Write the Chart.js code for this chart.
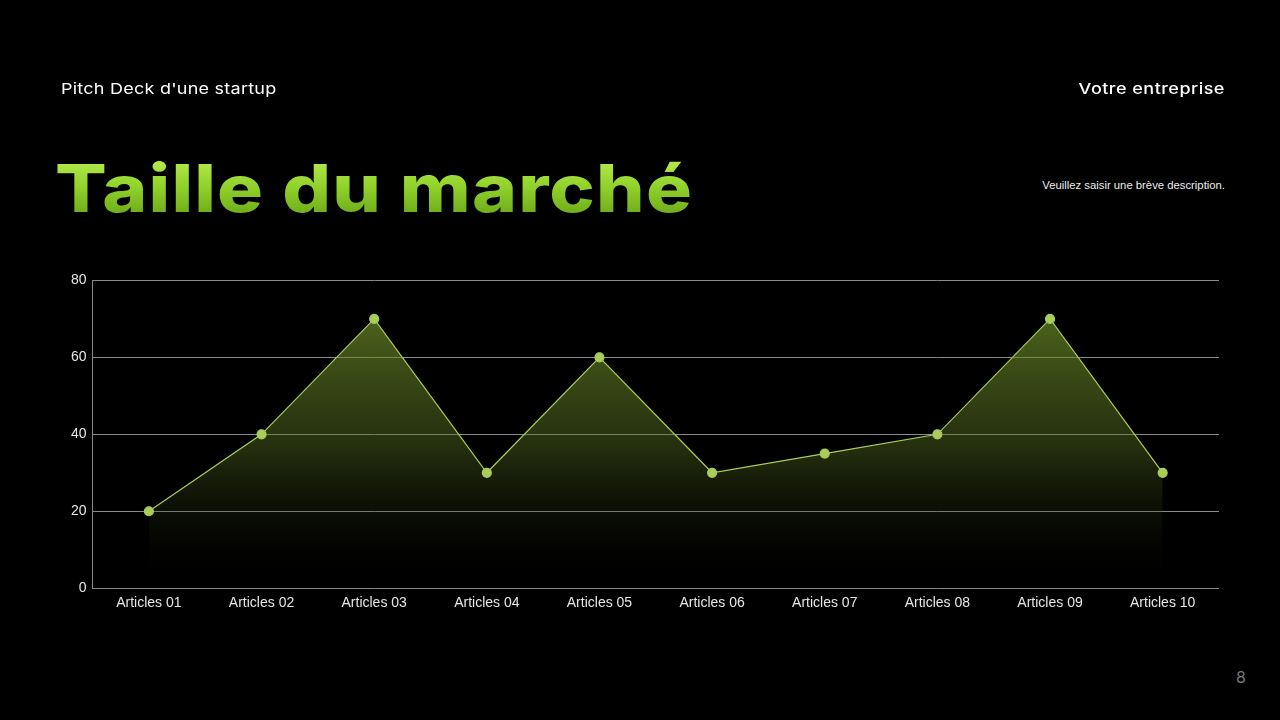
<!DOCTYPE html>
<html>
<head>
<meta charset="utf-8">
<script src="https://cdn.jsdelivr.net/npm/chart.js@4/dist/chart.umd.min.js"></script>
<style>
  html, body { margin: 0; padding: 0; background: #000; }
  body { width: 1280px; height: 720px; position: relative; overflow: hidden; font-family: Inter, "Noto Sans", sans-serif; color: #fff; }
  .top-left { position: absolute; left: 61px; top: 79px; font-size: 15px; letter-spacing: 0.2px; transform: scaleX(1.2); transform-origin: left; }
  .top-right { position: absolute; right: 55px; top: 79px; font-size: 15px; font-weight: 500; letter-spacing: 0.4px; transform: scaleX(1.2); transform-origin: right; }
  h1 { position: absolute; left: 55px; top: 148px; margin: 0; font-size: 66px; font-weight: 800; letter-spacing: 1px;
       background: linear-gradient(180deg, #c4f55a 0%, #8fd02a 50%, #5e9a12 100%);
       -webkit-background-clip: text; background-clip: text; color: transparent; transform: scaleX(1.16); transform-origin: left; }
  .desc { position: absolute; right: 55px; top: 179px; font-size: 11.3px; color: #eee; font-family: "Liberation Sans", sans-serif; }
  .page { position: absolute; left: 1236px; top: 667px; font-size: 16px; color: #777; }
  #wrap { position: absolute; left: 65px; top: 266px; width: 1160px; height: 353px; }
</style>
</head>
<body>
<div class="top-left">Pitch Deck d'une startup</div>
<div class="top-right">Votre entreprise</div>
<h1>Taille du marché</h1>
<div class="desc">Veuillez saisir une brève description.</div>
<div class="page">8</div>
<div id="wrap"><canvas id="chart"></canvas></div>
<script>
const categories = ['Articles 01', 'Articles 02', 'Articles 03', 'Articles 04', 'Articles 05',
                    'Articles 06', 'Articles 07', 'Articles 08', 'Articles 09', 'Articles 10'];
const values = [20, 40, 70, 30, 60, 30, 35, 40, 70, 30];
const yMin = 0;
const yMax = 80;
const yStep = 20;

const ctx = document.getElementById('chart').getContext('2d');

new Chart(ctx, {
    type: 'line',
    data: {
        labels: categories,
        datasets: [{
            data: values,
            borderColor: '#a9cc5a',
            borderWidth: 1.2,
            pointBackgroundColor: '#a9cc5a',
            pointBorderColor: '#a9cc5a',
            pointRadius: 4.5,
            tension: 0,
            fill: 'origin',
            backgroundColor: function(context) {
                const area = context.chart.chartArea;
                if (!area) return 'rgba(110,140,40,0.4)';
                const g = context.chart.ctx.createLinearGradient(0, area.top, 0, area.bottom);
                g.addColorStop(0, 'rgba(120,155,45,0.75)');
                g.addColorStop(0.55, 'rgba(90,115,35,0.4)');
                g.addColorStop(1, 'rgba(0,0,0,0)');
                return g;
            }
        }]
    },
    options: {
        responsive: true,
        maintainAspectRatio: false,
        animation: false,
        layout: { padding: { top: 4, right: 6, left: 0, bottom: 0 } },
        plugins: {
            legend: { display: false },
            tooltip: { enabled: false }
        },
        scales: {
            x: {
                offset: true,
                grid: { display: false, drawTicks: false },
                border: { display: false },
                ticks: { color: '#e6e6e6', font: { family: 'Liberation Sans', size: 14 }, padding: 7 }
            },
            y: {
                min: yMin,
                max: yMax,
                ticks: { stepSize: yStep, color: '#e6e6e6', font: { family: 'Liberation Sans', size: 14 }, padding: 6 },
                grid: { color: '#8a8a8a', lineWidth: 1, drawTicks: false },
                border: { display: true, color: '#8a8a8a' }
            }
        }
    }
});
</script>
</body>
</html>
